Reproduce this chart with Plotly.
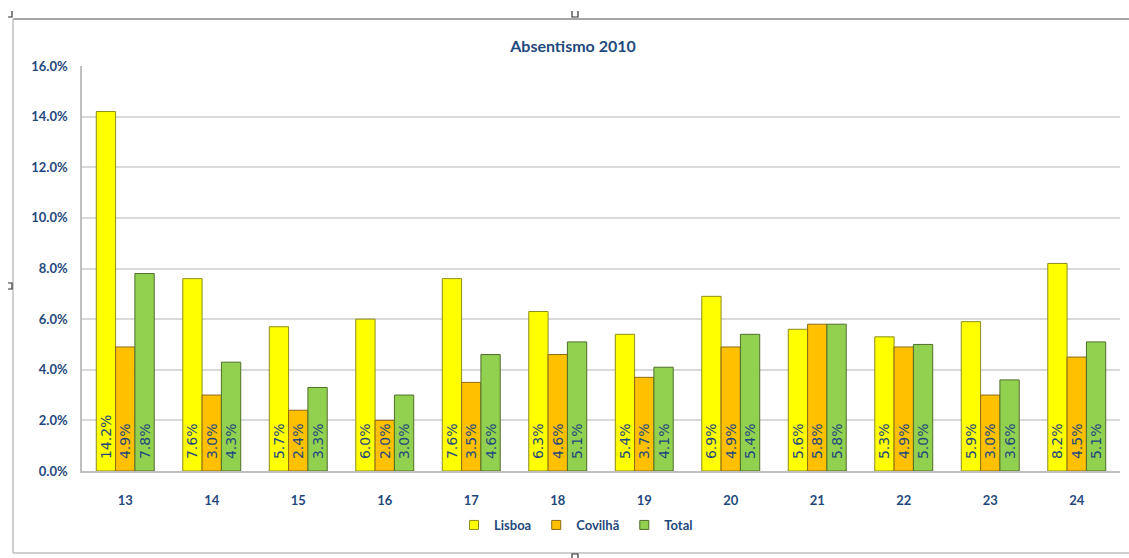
import plotly.graph_objects as go

# Absenteeism rate per week, 2010
weeks = ["13", "14", "15", "16", "17", "18", "19", "20", "21", "22", "23", "24"]
lisboa = [14.2, 7.6, 5.7, 6.0, 7.6, 6.3, 5.4, 6.9, 5.6, 5.3, 5.9, 8.2]
covilha = [4.9, 3.0, 2.4, 2.0, 3.5, 4.6, 3.7, 4.9, 5.8, 4.9, 3.0, 4.5]
total = [7.8, 4.3, 3.3, 3.0, 4.6, 5.1, 4.1, 5.4, 5.8, 5.0, 3.6, 5.1]

series = [
    ("Lisboa", lisboa, "#FFFF00", "#8C8C1E"),
    ("Covilhã", covilha, "#FFC000", "#8C6A14"),
    ("Total", total, "#92D050", "#4F6E2A"),
]

W, H = 1129, 558
L, R, T, B = 82, 9, 66, 87
PW, PH = W - L - R, H - T - B


def px(x):
    return (x - L) / PW


def py(y):
    return (H - B - y) / PH


NAVY = "#1F497D"

fig = go.Figure()
for name, vals, fill, edge in series:
    fig.add_trace(go.Bar(
        name=name,
        x=weeks,
        y=[v / 100 for v in vals],
        text=[f"\u00a0\u00a0{v:.1f}%" for v in vals],
        textposition="inside",
        insidetextanchor="start",
        textangle=-90,
        constraintext="none",
        textfont=dict(family="DejaVu Sans", size=14, color=NAVY),
        marker=dict(color=fill, line=dict(color=edge, width=1)),
        showlegend=False,
    ))
    # legend entry with a small square swatch
    fig.add_trace(go.Scatter(
        name=name, x=[None], y=[None], mode="markers",
        marker=dict(symbol="square", size=9, color=fill,
                    line=dict(color=edge, width=1)),
        showlegend=True,
    ))

fig.update_layout(
    width=W, height=H,
    margin=dict(l=L, r=R, t=T, b=B),
    paper_bgcolor="white",
    plot_bgcolor="white",
    barmode="group",
    bargap=0.33,
    bargroupgap=0,
    font=dict(family="Lato", color=NAVY),
    title=dict(
        text="<b>Absentismo 2010</b>",
        x=px(573), xref="paper", xanchor="center",
        y=1 - 46 / H, yref="container", yanchor="middle",
        font=dict(family="Lato", size=16, color=NAVY),
    ),
    legend=dict(
        orientation="h",
        x=px(576), xanchor="center",
        y=py(525), yanchor="middle",
        font=dict(family="Lato", size=13, color=NAVY, weight="bold"),
        itemwidth=30,
        tracegroupgap=0,
        traceorder="normal",
    ),
    xaxis=dict(
        showgrid=False,
        showline=True, linecolor="#BFBFBF", linewidth=1.5,
        ticks="",
        ticklabelstandoff=17,
        tickfont=dict(family="Lato", size=13, color=NAVY, weight="bold"),
    ),
    yaxis=dict(
        range=[0, 0.16],
        dtick=0.02,
        tickformat=".1%",
        showgrid=True, gridcolor="#D9D9D9", gridwidth=1.5,
        showline=True, linecolor="#BFBFBF", linewidth=1.5,
        zeroline=False,
        ticks="",
        ticklabelstandoff=10,
        tickfont=dict(family="Lato", size=13, color=NAVY, weight="bold"),
    ),
)

# Outer chart frame
frame = dict(type="line", xref="paper", yref="paper")
fig.add_shape(**frame, x0=px(13), x1=px(W), y0=py(19), y1=py(19),
              line=dict(color="#A6A6A6", width=2))
fig.add_shape(**frame, x0=px(13), x1=px(13), y0=py(19), y1=py(553),
              line=dict(color="#BFBFBF", width=1.5))
fig.add_shape(**frame, x0=px(13), x1=px(W), y0=py(553), y1=py(553),
              line=dict(color="#BFBFBF", width=1.5))

# Frame resize handles
handle = dict(color="#333333", width=1.2)
fig.add_shape(type="path", xref="paper", yref="paper", line=handle,
              path=f"M {px(572)} {py(11)} L {px(572)} {py(17)} L {px(578)} {py(17)} L {px(578)} {py(11)}")
fig.add_shape(type="path", xref="paper", yref="paper", line=handle,
              path=f"M {px(572)} {py(558)} L {px(572)} {py(554)} L {px(578)} {py(554)} L {px(578)} {py(558)}")
fig.add_shape(type="path", xref="paper", yref="paper", line=handle,
              path=f"M {px(8)} {py(283)} L {px(12)} {py(283)} L {px(12)} {py(289)} L {px(8)} {py(289)}")
fig.add_shape(type="path", xref="paper", yref="paper", line=handle,
              path=f"M {px(8)} {py(17)} L {px(12)} {py(17)} L {px(12)} {py(11)}")

fig.write_html("out.html")
